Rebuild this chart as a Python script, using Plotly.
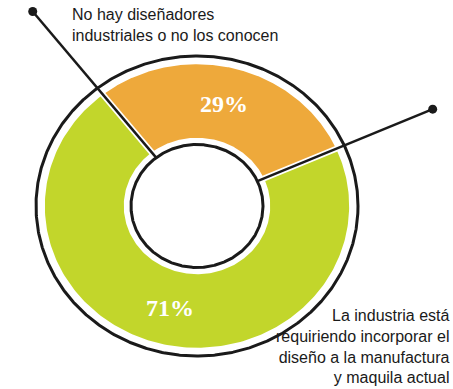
import numpy as np
import plotly.graph_objects as go

# Survey answers and their shares
labels = [
    "No hay diseñadores<br>industriales o no los conocen",
    "La industria está<br>requiriendo incorporar el<br>diseño a la manufactura<br>y maquila actual",
]
values = [29, 71]
colors = ["#EEA93B", "#C2D62B"]

# Donut geometry (unit = outer outline radius)
R_RING_OUT = 1.0
R_SLICE_OUT = 0.945
R_SLICE_IN = 0.455
R_RING_IN = 0.41
R_TEXT = 0.70
START_DEG = 128.2          # where the first slice begins, going clockwise
LEADER_END = [1.65, 1.60]  # how far each leader line reaches out

W, H = 453, 389
CX, CY = 197, 206          # donut centre in pixels
SX, SY = 161, 150          # pixels per unit along x and y

total = float(sum(values))
fig = go.Figure()

angle = START_DEG
starts = []
for v, col in zip(values, colors):
    span = 360.0 * v / total
    th = np.radians(np.linspace(angle, angle - span, 240))
    xs = np.concatenate([R_SLICE_OUT * np.cos(th), R_SLICE_IN * np.cos(th[::-1])])
    ys = np.concatenate([R_SLICE_OUT * np.sin(th), R_SLICE_IN * np.sin(th[::-1])])
    fig.add_trace(go.Scatter(x=xs, y=ys, fill="toself", fillcolor=col,
                             mode="lines", line=dict(width=0), hoverinfo="skip"))
    mid = np.radians(angle - span / 2)
    fig.add_annotation(x=R_TEXT * np.cos(mid), y=R_TEXT * np.sin(mid),
                       text=f"<b>{round(100 * v / total)}%</b>", showarrow=False,
                       font=dict(family="Liberation Serif, Times New Roman, serif",
                                 size=24, color="white"))
    starts.append(angle)
    angle -= span

# White separators between slices
for a in starts:
    t = np.radians(a)
    fig.add_trace(go.Scatter(x=[0.42 * np.cos(t), 0.975 * np.cos(t)],
                             y=[0.42 * np.sin(t), 0.975 * np.sin(t)],
                             mode="lines", line=dict(color="white", width=6),
                             hoverinfo="skip"))

# Black outlines inside and outside the ring
circ = np.radians(np.linspace(0, 360, 721))
for r in (R_RING_OUT, R_RING_IN):
    fig.add_trace(go.Scatter(x=r * np.cos(circ), y=r * np.sin(circ), mode="lines",
                             line=dict(color="#1a1a1a", width=3), hoverinfo="skip"))

# Leader lines ending in dots
for a, rend in zip(starts, LEADER_END):
    t = np.radians(a)
    fig.add_trace(go.Scatter(x=[R_RING_IN * np.cos(t), rend * np.cos(t)],
                             y=[R_RING_IN * np.sin(t), rend * np.sin(t)],
                             mode="lines", line=dict(color="#1a1a1a", width=2.5),
                             hoverinfo="skip"))
    fig.add_trace(go.Scatter(x=[rend * np.cos(t)], y=[rend * np.sin(t)], mode="markers",
                             marker=dict(color="#1a1a1a", size=9), hoverinfo="skip"))

label_font = dict(family="Arial, Liberation Sans, sans-serif", size=16, color="#1a1a1a")
fig.add_annotation(xref="paper", yref="paper", x=70 / W, y=1 - 4 / H,
                   xanchor="left", yanchor="top", align="left",
                   text=labels[0], showarrow=False, font=label_font)
fig.add_annotation(xref="paper", yref="paper", x=452 / W, y=1 / H,
                   xanchor="right", yanchor="bottom", align="right",
                   text=labels[1], showarrow=False, font=label_font)

fig.update_xaxes(range=[-CX / SX, (W - CX) / SX], visible=False, fixedrange=True)
fig.update_yaxes(range=[-(H - CY) / SY, CY / SY], visible=False, fixedrange=True)
fig.update_layout(width=W, height=H, margin=dict(l=0, r=0, t=0, b=0),
                  paper_bgcolor="white", plot_bgcolor="white", showlegend=False)

fig.write_html("out.html")
